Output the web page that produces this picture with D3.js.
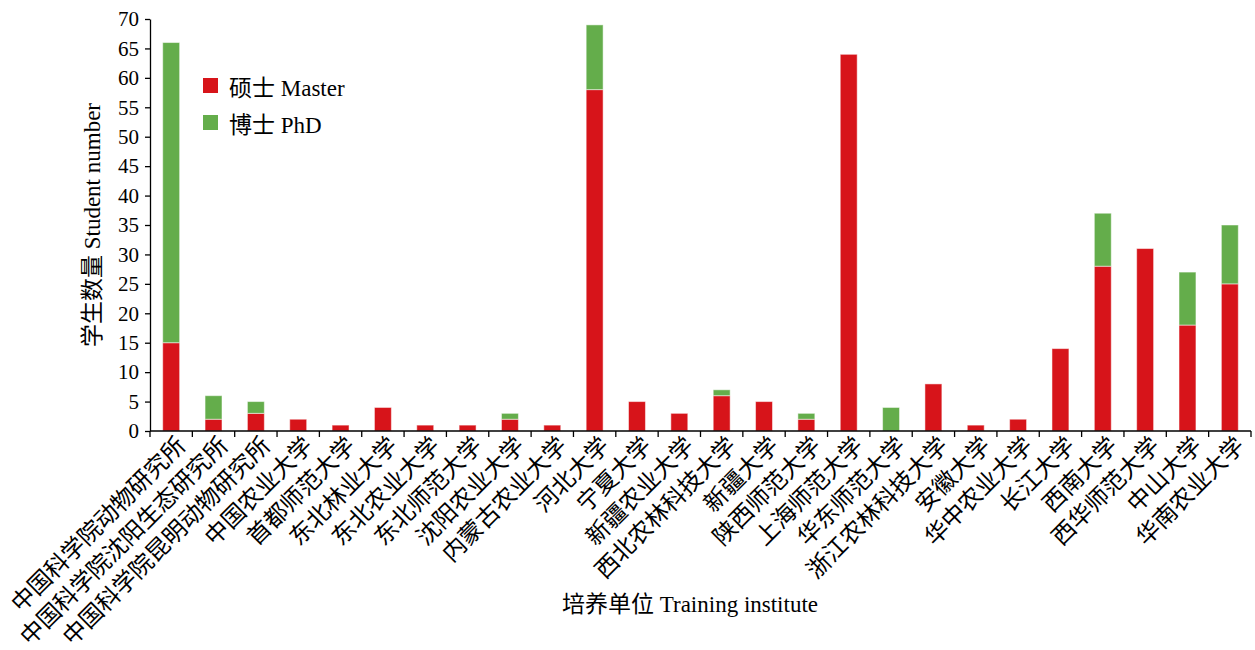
<!DOCTYPE html>
<html>
<head>
<meta charset="utf-8">
<script src="https://cdn.jsdelivr.net/npm/d3@7/dist/d3.min.js"></script>
<style>
  body { margin: 0; background: #fff; }
  text { font-family: "Liberation Serif", "Noto Sans CJK SC", serif; fill: #000; }
</style>
</head>
<body>
<svg id="chart" width="1255" height="650"></svg>
<script>
// training institutes
const institutes = [
  '中国科学院动物研究所', '中国科学院沈阳生态研究所', '中国科学院昆明动物研究所',
  '中国农业大学', '首都师范大学', '东北林业大学', '东北农业大学', '东北师范大学',
  '沈阳农业大学', '内蒙古农业大学', '河北大学', '宁夏大学', '新疆农业大学',
  '西北农林科技大学', '新疆大学', '陕西师范大学', '上海师范大学', '华东师范大学',
  '浙江农林科技大学', '安徽大学', '华中农业大学', '长江大学', '西南大学',
  '西华师范大学', '中山大学', '华南农业大学'
];
const master = [15, 2, 3, 2, 1, 4, 1, 1, 2, 1, 58, 5, 3, 6, 5, 2, 64, 0, 8, 1, 2, 14, 28, 31, 18, 25];
const phd    = [51, 4, 2, 0, 0, 0, 0, 0, 1, 0, 11, 0, 0, 1, 0, 1, 0, 4, 0, 0, 0, 0, 9, 0, 9, 10];
const yTicks = d3.range(0, 71, 5);

const seriesNames = ['master', 'phd'];
const legendLabels = ['硕士 Master', '博士 PhD'];
const colors = ['#d7141a', '#64ad4b'];

const mLeft = 150, mRight = 1251, mTop = 19, mBottom = 431;
const svg = d3.select('#chart');

const rows = institutes.map((name, i) => ({ name, master: master[i], phd: phd[i] }));
const stacked = d3.stack().keys(seriesNames)(rows);

const x = d3.scaleBand().domain(institutes).range([mLeft, mRight]).paddingInner(0.6).paddingOuter(0.3);
const y = d3.scaleLinear().domain([0, 70]).range([mBottom, mTop]);

// bars
svg.append('g')
  .selectAll('g')
  .data(stacked)
  .join('g')
  .attr('fill', (d, i) => colors[i])
  .selectAll('rect')
  .data(d => d.filter(s => s[1] > s[0]))
  .join('rect')
  .attr('x', d => x(d.data.name))
  .attr('y', d => y(d[1]))
  .attr('width', x.bandwidth())
  .attr('height', d => y(d[0]) - y(d[1]))
  .attr('stroke', 'rgba(255,255,255,0.5)')
  .attr('stroke-width', 1);

// y axis
const yAxis = svg.append('g')
  .attr('transform', `translate(${mLeft},0)`)
  .call(d3.axisLeft(y).tickValues(yTicks).tickSize(5).tickPadding(6).tickSizeOuter(0));
yAxis.selectAll('text').style('font-size', '21px');
yAxis.selectAll('line, path').attr('stroke', '#000').attr('stroke-width', 1.3);

// x axis, ticks between bands
const xAxis = svg.append('g').attr('transform', `translate(0,${mBottom})`);
xAxis.append('line')
  .attr('x1', mLeft).attr('x2', mRight)
  .attr('stroke', '#000').attr('stroke-width', 1.3);
const step = (mRight - mLeft) / institutes.length;
xAxis.selectAll('.tick')
  .data(d3.range(institutes.length + 1))
  .join('line')
  .attr('x1', i => mLeft + i * step).attr('x2', i => mLeft + i * step)
  .attr('y1', 0).attr('y2', 6)
  .attr('stroke', '#000').attr('stroke-width', 1.3);
xAxis.selectAll('.lab')
  .data(institutes)
  .join('text')
  .attr('text-anchor', 'end')
  .attr('transform', d => `translate(${x(d) + x.bandwidth() / 2 + 16},${16}) rotate(-45)`)
  .style('font-size', '23.5px')
  .text(d => d);

// axis titles
svg.append('text')
  .attr('transform', `translate(100,${(mTop + mBottom) / 2}) rotate(-90)`)
  .attr('text-anchor', 'middle')
  .style('font-size', '23px')
  .text('学生数量 Student number');
svg.append('text')
  .attr('x', 690).attr('y', 612)
  .attr('text-anchor', 'middle')
  .style('font-size', '23px')
  .text('培养单位 Training institute');

// legend
const legend = svg.append('g').attr('transform', 'translate(203,78)');
legendLabels.forEach((lab, i) => {
  const g = legend.append('g').attr('transform', `translate(0,${i * 37})`);
  g.append('rect').attr('width', 15).attr('height', 15).attr('fill', colors[i]);
  g.append('text').attr('x', 26).attr('y', 18).style('font-size', '23px').text(lab);
});
</script>
</body>
</html>
